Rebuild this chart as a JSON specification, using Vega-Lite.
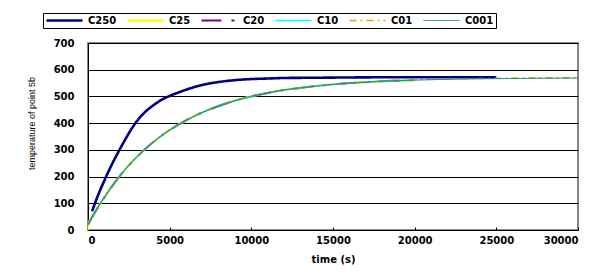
{
  "$schema": "https://vega.github.io/schema/vega-lite/v6.json",
  "width": 490,
  "height": 187,
  "autosize": {"type": "none"},
  "padding": {"left": 88, "top": 43, "right": 32, "bottom": 43},
  "background": "white",
  "config": {
    "view": {"stroke": "#888888", "strokeWidth": 2},
    "axis": {"labelFont": "DejaVu Sans", "labelFontWeight": "bold", "labelFontSize": 10, "labelColor": "black", "domainColor": "black", "tickColor": "black", "titleColor": "black"}
  },
  "datasets": {
    "curves": [
      {"series": "C250", "time": 250, "temp": 70},
      {"series": "C250", "time": 500, "temp": 112},
      {"series": "C250", "time": 1000, "temp": 185},
      {"series": "C250", "time": 1500, "temp": 250},
      {"series": "C250", "time": 2000, "temp": 308},
      {"series": "C250", "time": 2500, "temp": 362},
      {"series": "C250", "time": 3000, "temp": 408},
      {"series": "C250", "time": 3500, "temp": 442},
      {"series": "C250", "time": 4000, "temp": 467},
      {"series": "C250", "time": 4500, "temp": 487},
      {"series": "C250", "time": 5000, "temp": 502},
      {"series": "C250", "time": 5500, "temp": 514},
      {"series": "C250", "time": 6000, "temp": 525},
      {"series": "C250", "time": 7000, "temp": 543},
      {"series": "C250", "time": 8000, "temp": 554},
      {"series": "C250", "time": 9000, "temp": 561},
      {"series": "C250", "time": 10000, "temp": 565},
      {"series": "C250", "time": 11000, "temp": 567},
      {"series": "C250", "time": 12000, "temp": 569},
      {"series": "C250", "time": 14000, "temp": 570},
      {"series": "C250", "time": 16000, "temp": 571},
      {"series": "C250", "time": 20000, "temp": 572},
      {"series": "C250", "time": 25000, "temp": 572},

      {"series": "C25", "time": 0, "temp": 0},
      {"series": "C25", "time": 30, "temp": 22},
      {"series": "C25", "time": 500, "temp": 74},
      {"series": "C25", "time": 1000, "temp": 122},
      {"series": "C25", "time": 1500, "temp": 166},
      {"series": "C25", "time": 2000, "temp": 206},
      {"series": "C25", "time": 2500, "temp": 242},
      {"series": "C25", "time": 3000, "temp": 274},
      {"series": "C25", "time": 3500, "temp": 303},
      {"series": "C25", "time": 4000, "temp": 329},
      {"series": "C25", "time": 4500, "temp": 353},
      {"series": "C25", "time": 5000, "temp": 374},
      {"series": "C25", "time": 6000, "temp": 410},
      {"series": "C25", "time": 7000, "temp": 440},
      {"series": "C25", "time": 8000, "temp": 464},
      {"series": "C25", "time": 9000, "temp": 484},
      {"series": "C25", "time": 10000, "temp": 500},
      {"series": "C25", "time": 11000, "temp": 513},
      {"series": "C25", "time": 12000, "temp": 524},
      {"series": "C25", "time": 13000, "temp": 532},
      {"series": "C25", "time": 14000, "temp": 539},
      {"series": "C25", "time": 15000, "temp": 545},
      {"series": "C25", "time": 16000, "temp": 550},
      {"series": "C25", "time": 17000, "temp": 553},
      {"series": "C25", "time": 18000, "temp": 557},
      {"series": "C25", "time": 19000, "temp": 559},
      {"series": "C25", "time": 20000, "temp": 561},

      {"series": "C20", "time": 0, "temp": 20},
      {"series": "C20", "time": 500, "temp": 74},
      {"series": "C20", "time": 1000, "temp": 122},
      {"series": "C20", "time": 1500, "temp": 166},
      {"series": "C20", "time": 2000, "temp": 206},
      {"series": "C20", "time": 2500, "temp": 242},
      {"series": "C20", "time": 3000, "temp": 274},
      {"series": "C20", "time": 3500, "temp": 303},
      {"series": "C20", "time": 4000, "temp": 329},
      {"series": "C20", "time": 4500, "temp": 353},
      {"series": "C20", "time": 5000, "temp": 374},
      {"series": "C20", "time": 6000, "temp": 410},
      {"series": "C20", "time": 7000, "temp": 440},
      {"series": "C20", "time": 8000, "temp": 464},
      {"series": "C20", "time": 9000, "temp": 484},
      {"series": "C20", "time": 10000, "temp": 500},
      {"series": "C20", "time": 11000, "temp": 513},
      {"series": "C20", "time": 12000, "temp": 524},
      {"series": "C20", "time": 13000, "temp": 532},
      {"series": "C20", "time": 14000, "temp": 539},
      {"series": "C20", "time": 15000, "temp": 545},
      {"series": "C20", "time": 16000, "temp": 550},
      {"series": "C20", "time": 17000, "temp": 553},
      {"series": "C20", "time": 18000, "temp": 557},
      {"series": "C20", "time": 19000, "temp": 559},
      {"series": "C20", "time": 20000, "temp": 561},

      {"series": "C10", "time": 0, "temp": 20},
      {"series": "C10", "time": 500, "temp": 74},
      {"series": "C10", "time": 1000, "temp": 122},
      {"series": "C10", "time": 1500, "temp": 166},
      {"series": "C10", "time": 2000, "temp": 206},
      {"series": "C10", "time": 2500, "temp": 242},
      {"series": "C10", "time": 3000, "temp": 274},
      {"series": "C10", "time": 3500, "temp": 303},
      {"series": "C10", "time": 4000, "temp": 329},
      {"series": "C10", "time": 4500, "temp": 353},
      {"series": "C10", "time": 5000, "temp": 374},
      {"series": "C10", "time": 6000, "temp": 410},
      {"series": "C10", "time": 7000, "temp": 440},
      {"series": "C10", "time": 8000, "temp": 464},
      {"series": "C10", "time": 9000, "temp": 484},
      {"series": "C10", "time": 10000, "temp": 500},
      {"series": "C10", "time": 11000, "temp": 513},
      {"series": "C10", "time": 12000, "temp": 524},
      {"series": "C10", "time": 13000, "temp": 532},
      {"series": "C10", "time": 14000, "temp": 539},
      {"series": "C10", "time": 15000, "temp": 545},
      {"series": "C10", "time": 16000, "temp": 550},
      {"series": "C10", "time": 17000, "temp": 553},
      {"series": "C10", "time": 18000, "temp": 557},
      {"series": "C10", "time": 19000, "temp": 559},
      {"series": "C10", "time": 20000, "temp": 561},

      {"series": "C01", "time": 0, "temp": 22},
      {"series": "C01", "time": 500, "temp": 76},
      {"series": "C01", "time": 1000, "temp": 124},
      {"series": "C01", "time": 1500, "temp": 167},
      {"series": "C01", "time": 2000, "temp": 207},
      {"series": "C01", "time": 2500, "temp": 243},
      {"series": "C01", "time": 3000, "temp": 275},
      {"series": "C01", "time": 3500, "temp": 304},
      {"series": "C01", "time": 4000, "temp": 330},
      {"series": "C01", "time": 4500, "temp": 354},
      {"series": "C01", "time": 5000, "temp": 375},
      {"series": "C01", "time": 6000, "temp": 411},
      {"series": "C01", "time": 7000, "temp": 441},
      {"series": "C01", "time": 8000, "temp": 465},
      {"series": "C01", "time": 9000, "temp": 485},
      {"series": "C01", "time": 10000, "temp": 501},
      {"series": "C01", "time": 11000, "temp": 514},
      {"series": "C01", "time": 12000, "temp": 525},
      {"series": "C01", "time": 13000, "temp": 533},
      {"series": "C01", "time": 14000, "temp": 540},
      {"series": "C01", "time": 15000, "temp": 546},
      {"series": "C01", "time": 16000, "temp": 551},
      {"series": "C01", "time": 17000, "temp": 554},
      {"series": "C01", "time": 18000, "temp": 558},
      {"series": "C01", "time": 19000, "temp": 560},
      {"series": "C01", "time": 20000, "temp": 562},
      {"series": "C01", "time": 22000, "temp": 565},
      {"series": "C01", "time": 24000, "temp": 567},
      {"series": "C01", "time": 26000, "temp": 569},
      {"series": "C01", "time": 28000, "temp": 570},
      {"series": "C01", "time": 30000, "temp": 570},

      {"series": "C001", "time": 0, "temp": 20},
      {"series": "C001", "time": 500, "temp": 74},
      {"series": "C001", "time": 1000, "temp": 122},
      {"series": "C001", "time": 1500, "temp": 166},
      {"series": "C001", "time": 2000, "temp": 206},
      {"series": "C001", "time": 2500, "temp": 242},
      {"series": "C001", "time": 3000, "temp": 274},
      {"series": "C001", "time": 3500, "temp": 303},
      {"series": "C001", "time": 4000, "temp": 329},
      {"series": "C001", "time": 4500, "temp": 353},
      {"series": "C001", "time": 5000, "temp": 374},
      {"series": "C001", "time": 6000, "temp": 410},
      {"series": "C001", "time": 7000, "temp": 440},
      {"series": "C001", "time": 8000, "temp": 464},
      {"series": "C001", "time": 9000, "temp": 484},
      {"series": "C001", "time": 10000, "temp": 500},
      {"series": "C001", "time": 11000, "temp": 513},
      {"series": "C001", "time": 12000, "temp": 524},
      {"series": "C001", "time": 13000, "temp": 532},
      {"series": "C001", "time": 14000, "temp": 539},
      {"series": "C001", "time": 15000, "temp": 545},
      {"series": "C001", "time": 16000, "temp": 550},
      {"series": "C001", "time": 17000, "temp": 553},
      {"series": "C001", "time": 18000, "temp": 557},
      {"series": "C001", "time": 19000, "temp": 559},
      {"series": "C001", "time": 20000, "temp": 561},
      {"series": "C001", "time": 22000, "temp": 564},
      {"series": "C001", "time": 24000, "temp": 566},
      {"series": "C001", "time": 26000, "temp": 567},
      {"series": "C001", "time": 28000, "temp": 568},
      {"series": "C001", "time": 30000, "temp": 569}
    ]
  },
  "data": {"name": "curves"},
  "mark": {"type": "line", "clip": true, "interpolate": "monotone"},
  "encoding": {
    "x": {
      "field": "time", "type": "quantitative",
      "scale": {"domain": [0, 30000], "nice": false},
      "axis": {"values": [0, 5000, 10000, 15000, 20000, 25000, 30000], "format": "d", "grid": false, "tickSize": -3, "labelPadding": 8, "title": "time  (s)", "titleFont": "DejaVu Sans", "titleFontWeight": "bold", "titleFontSize": 10, "titlePadding": 9}
    },
    "y": {
      "field": "temp", "type": "quantitative",
      "scale": {"domain": [0, 700], "nice": false},
      "axis": {"values": [0, 100, 200, 300, 400, 500, 600, 700], "grid": true, "gridColor": "black", "gridOpacity": 1, "tickSize": 0, "labelPadding": 14, "title": "temperature of point 5b", "titleFont": "Liberation Sans", "titleFontWeight": "normal", "titleFontSize": 9, "titlePadding": 17, "titleY": 80}
    },
    "color": {
      "field": "series", "type": "nominal",
      "scale": {"domain": ["C250", "C25", "C20", "C10", "C01", "C001"], "range": ["#000080", "#FFFF00", "#800080", "#00FFFF", "#FF9900", "#008080"]},
      "legend": {
        "title": null, "orient": "none", "legendX": -45, "legendY": -30, "direction": "horizontal", "columns": 6,
        "strokeColor": "black", "fillColor": "white", "padding": 2, "columnPadding": 9, "clipHeight": 11,
        "symbolType": "stroke", "symbolSize": 1300, "symbolStrokeWidth": 1.5,
        "labelFont": "DejaVu Sans", "labelFontWeight": "bold", "labelFontSize": 10, "labelColor": "black", "labelOffset": 4
      }
    },
    "strokeDash": {
      "field": "series", "type": "nominal",
      "scale": {"domain": ["C250", "C25", "C20", "C10", "C01", "C001"], "range": [[1, 0], [1, 0], [20, 10, 3, 10], [1, 0], [7, 4, 2, 4], [1, 0]]},
      "legend": null
    },
    "strokeWidth": {
      "field": "series", "type": "nominal",
      "scale": {"domain": ["C250", "C25", "C20", "C10", "C01", "C001"], "range": [2.6, 1, 1, 1, 1.2, 1]},
      "legend": null
    },
    "order": {"field": "time", "type": "quantitative"}
  }
}
